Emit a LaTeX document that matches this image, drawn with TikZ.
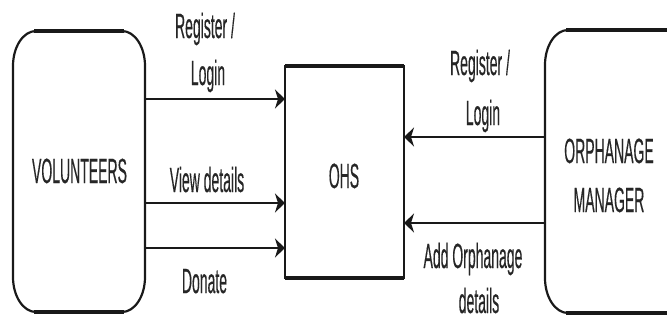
\documentclass[tikz,border=0pt]{standalone}
\usepackage{fontspec}
\setmainfont{Liberation Sans}[FakeBold=0.5]
\newfontfamily\lblfont{Liberation Sans}[FakeBold=0.5]
\usetikzlibrary{arrows.meta}
\newcommand{\tallt}[1]{\scalebox{1}[2.5]{#1}}
% oval-cornered outline round a named node (x radius 23pt, y radius 35pt)
\newcommand{\ovalframe}[1]{%
  \draw[boxline] ([xshift=23pt]#1.north west) -- ([xshift=-23pt]#1.north east)
    .. controls ([xshift=-10.3pt]#1.north east) and ([yshift=-15.7pt]#1.north east) .. ([yshift=-35pt]#1.north east)
    -- ([yshift=35pt]#1.south east)
    .. controls ([yshift=15.7pt]#1.south east) and ([xshift=-10.3pt]#1.south east) .. ([xshift=-23pt]#1.south east)
    -- ([xshift=23pt]#1.south west)
    .. controls ([xshift=10.3pt]#1.south west) and ([yshift=15.7pt]#1.south west) .. ([yshift=35pt]#1.south west)
    -- ([yshift=-35pt]#1.north west)
    .. controls ([yshift=-15.7pt]#1.north west) and ([xshift=10.3pt]#1.north west) .. cycle;
  \draw[edge] ([xshift=21pt]#1.north west) -- ([xshift=-21pt]#1.north east);
  \draw[edge] ([xshift=21pt]#1.south west) -- ([xshift=-21pt]#1.south east);}
\begin{document}
\begin{tikzpicture}[x=1pt,y=-1pt,
  boxline/.style={draw=black!90, line width=2.2pt, line join=round},
  area/.style={inner sep=0pt, outer sep=0pt},
  boxs/.style={draw=black!90, line width=2.2pt, inner sep=0pt, outer sep=0pt},
  edge/.style={draw=black!90, line width=4pt},
  lbl/.style={anchor=base, inner sep=0pt, font=\lblfont\fontsize{14}{17}\selectfont, text=black!85},
  arr/.style={draw=black!90, line width=2.2pt, -{Stealth[length=10pt,width=19pt,inset=3pt]}}]
\fill[white] (0,0) rectangle (667,325);
\clip (0,0) rectangle (667,325);
% boxes
\node[area, minimum width=132pt, minimum height=281pt] (vol) at (79,171.5) {};
\node[boxs, minimum width=119pt, minimum height=212pt] (ohs) at (344.5,172) {};
\node[area, minimum width=145pt, minimum height=283pt] (orph) at (617.5,171.5) {};
\ovalframe{vol}
\ovalframe{orph}
\draw[edge] (ohs.north west) -- (ohs.north east);
\draw[edge] (ohs.south west) -- (ohs.south east);
% box texts
\node[lbl] (tvol) at (79.5,183) {\tallt{VOLUNTEERS}};
\node[lbl] (tohs) at (344,188) {\tallt{OHS}};
\node[lbl] (torph) at (609,163) {\tallt{ORPHANAGE}};
\node[lbl] (tman) at (609,212) {\tallt{MANAGER}};
% arrows
\draw[arr] (vol.east |- 0,99) -- (ohs.west |- 0,99);
\draw[arr] (vol.east |- 0,203) -- (ohs.west |- 0,203);
\draw[arr] (vol.east |- 0,248) -- (ohs.west |- 0,248);
\draw[arr] (orph.west |- 0,137) -- (ohs.east |- 0,137);
\draw[arr] (orph.west |- 0,223) -- (ohs.east |- 0,223);
% arrow labels
\node[lbl] (r1a) at (205,38) {\tallt{Register /}};
\node[lbl] (r1b) at (208,85) {\tallt{Login}};
\node[lbl] (vd) at (207,192) {\tallt{View details}};
\node[lbl] (dn) at (204.5,293) {\tallt{Donate}};
\node[lbl] (r2a) at (480,75) {\tallt{Register /}};
\node[lbl] (r2b) at (483,125) {\tallt{Login}};
\node[lbl] (ad) at (473,268) {\tallt{Add Orphanage}};
\node[lbl] (dt) at (479,313) {\tallt{details}};
\end{tikzpicture}
\end{document}
